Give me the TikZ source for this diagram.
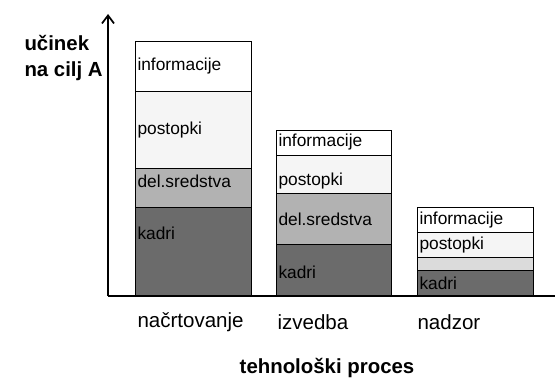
\documentclass[tikz,border=0pt]{standalone}
\usepackage{fontspec}
\setmainfont{Liberation Sans}
\usetikzlibrary{arrows.meta}
\tikzset{every picture/.style={line width=0.75pt}}
\tikzset{
  seg/.style={draw, line width=0.6pt},
  infofill/.style={seg, fill=white},
  postfill/.style={seg, fill=black!4},
  delfill/.style={seg, fill=black!30},
  kadrfill/.style={seg, fill=black!58},
  bandfill/.style={seg, fill=black!14},
  seglabel/.style={anchor=west, inner sep=0.75pt, font=\fontsize{13}{15}\selectfont},
  barlabel/.style={anchor=west, inner sep=0.75pt, font=\fontsize{15.4}{18}\selectfont},
  axislabel/.style={inner sep=0.75pt, font=\bfseries\fontsize{15.3}{19}\selectfont, align=left}
}

\begin{document}
\begin{tikzpicture}[x=0.75pt,y=0.75pt,yscale=-1,xscale=1]
\useasboundingbox (0,0) rectangle (557,385);

%Shapes: bar nacrtovanje
\draw [infofill] (135,41) rectangle (251,91) ;
\draw [postfill] (135,91) rectangle (251,168) ;
\draw [delfill] (135,168) rectangle (251,207) ;
\draw [kadrfill] (135,207) rectangle (251,296) ;
%Shapes: bar izvedba
\draw [infofill] (276,130) rectangle (391,155) ;
\draw [postfill] (276,155) rectangle (391,193) ;
\draw [delfill] (276,193) rectangle (391,244) ;
\draw [kadrfill] (276,244) rectangle (391,296) ;
%Shapes: bar nadzor
\draw [infofill] (417,207) rectangle (533,232) ;
\draw [postfill] (417,232) rectangle (533,257) ;
\draw [bandfill] (417,257) rectangle (533,270) ;
\draw [kadrfill] (417,270) rectangle (533,296) ;

%Straight Lines: axes
\coordinate (origin) at (108,296) ;
\coordinate (ytop) at (108,14) ;
\coordinate (xend) at (555,296) ;
\draw [line width=1.3pt, -{Straight Barb[length=6pt,width=9pt]}] (origin) -- (ytop) ;
\draw [line width=1.3pt] (origin) -- (xend) ;

% Text Node
\node (info1) [seglabel] at (136,66) {informacije};
% Text Node
\node (post1) [seglabel] at (136,130) {postopki};
% Text Node
\node (del1) [seglabel] at (136,181) {del.sredstva};
% Text Node
\node (kadr1) [seglabel] at (136,233) {kadri};
% Text Node
\node (info2) [seglabel] at (277,142) {informacije};
% Text Node
\node (post2) [seglabel] at (277,181) {postopki};
% Text Node
\node (del2) [seglabel] at (277,219) {del.sredstva};
% Text Node
\node (kadr2) [seglabel] at (277,272) {kadri};
% Text Node
\node (info3) [seglabel] at (418,220) {informacije};
% Text Node
\node (post3) [seglabel] at (418,245) {postopki};
% Text Node
\node (kadr3) [seglabel] at (418,283) {kadri};

% Text Node
\node (ucinek) [axislabel, anchor=north west] at (23,34) {učinek\\na cilj A};
% Text Node
\node (nacrt) [barlabel] at (136,322) {načrtovanje};
% Text Node
\node (izved) [barlabel] at (276,322) {izvedba};
% Text Node
\node (nadz) [barlabel] at (416,322) {nadzor};
% Text Node
\node (proces) [axislabel] at (327,368) {tehnološki proces};

\end{tikzpicture}
\end{document}
